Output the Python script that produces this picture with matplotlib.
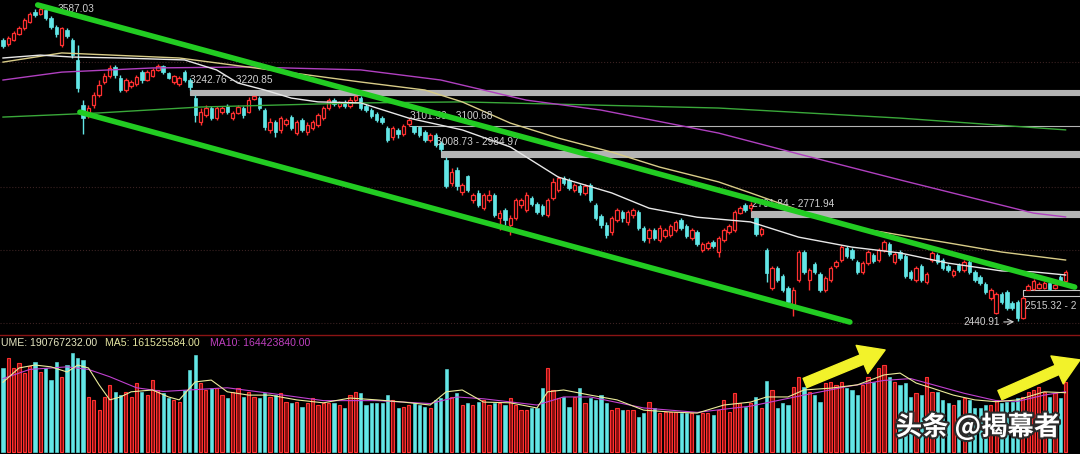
import numpy as np
import matplotlib
matplotlib.use('Agg')
import matplotlib.pyplot as plt
import matplotlib.patheffects as pe

# daily candles, oldest first (index points)
open_px = [
    3446, 3430, 3446, 3472, 3498, 3523, 3567, 3558, 3576, 3541,
    3502, 3425, 3489, 3446, 3363, 3182, 3143, 3182, 3221, 3273,
    3297, 3334, 3289, 3241, 3257, 3265, 3313, 3281, 3297, 3322,
    3338, 3309, 3273, 3265, 3313, 3281, 3209, 3116, 3143, 3170,
    3131, 3155, 3178, 3131, 3151, 3170, 3155, 3205, 3209, 3162,
    3086, 3116, 3086, 3108, 3135, 3074, 3124, 3078, 3093, 3105,
    3131, 3170, 3201, 3178, 3194, 3178, 3201, 3209, 3178, 3162,
    3147, 3131, 3093, 3059, 3086, 3070, 3108, 3099, 3097, 3078,
    3048, 3067, 3037, 2974, 2891, 2937, 2859, 2916, 2831, 2856,
    2803, 2831, 2849, 2769, 2797, 2746, 2769, 2814, 2797, 2838,
    2817, 2810, 2780, 2838, 2866, 2909, 2902, 2866, 2880, 2856,
    2884, 2814, 2776, 2746, 2722, 2762, 2790, 2756, 2780, 2790,
    2735, 2702, 2729, 2695, 2709, 2712, 2729, 2762, 2742, 2702,
    2722, 2663, 2669, 2689, 2656, 2695, 2722, 2729, 2786, 2814,
    2803, 2769, 2715, 2663, 2541, 2604, 2579, 2541, 2489, 2566,
    2656, 2566, 2617, 2585, 2535, 2566, 2610, 2630, 2669, 2663,
    2624, 2592, 2620, 2646, 2630, 2663, 2682, 2624, 2656, 2643,
    2592, 2566, 2610, 2560, 2630, 2646, 2630, 2610, 2582, 2614,
    2598, 2624, 2592, 2576, 2554, 2510, 2464, 2522, 2529, 2495,
    2498, 2449, 2535, 2538, 2541, 2541, 2557, 2541, 2576, 2563,
]
close_px = [
    3421, 3455, 3476, 3498, 3532, 3558, 3554, 3580, 3541, 3502,
    3472, 3498, 3463, 3383, 3249, 3131, 3170, 3221, 3261, 3297,
    3330, 3301, 3241, 3281, 3273, 3293, 3281, 3313, 3322, 3338,
    3313, 3289, 3297, 3289, 3281, 3253, 3143, 3155, 3170, 3131,
    3170, 3170, 3155, 3151, 3174, 3143, 3201, 3217, 3170, 3097,
    3116, 3078, 3131, 3124, 3093, 3116, 3086, 3105, 3116, 3143,
    3170, 3201, 3186, 3190, 3178, 3201, 3217, 3170, 3162, 3139,
    3124, 3116, 3048, 3093, 3070, 3101, 3124, 3078, 3067, 3048,
    3067, 3029, 3014, 2880, 2930, 2880, 2884, 2866, 2849, 2814,
    2849, 2849, 2780, 2786, 2762, 2769, 2831, 2831, 2849, 2817,
    2790, 2783, 2831, 2895, 2909, 2891, 2873, 2884, 2859, 2880,
    2831, 2769, 2746, 2712, 2769, 2797, 2769, 2790, 2797, 2735,
    2695, 2729, 2702, 2735, 2729, 2742, 2756, 2735, 2709, 2729,
    2682, 2682, 2686, 2676, 2702, 2729, 2742, 2790, 2803, 2797,
    2814, 2715, 2732, 2588, 2604, 2566, 2535, 2498, 2535, 2656,
    2592, 2598, 2592, 2535, 2572, 2604, 2624, 2672, 2643, 2637,
    2592, 2620, 2656, 2627, 2663, 2689, 2650, 2650, 2637, 2579,
    2572, 2604, 2566, 2585, 2653, 2624, 2604, 2598, 2595, 2598,
    2624, 2592, 2566, 2557, 2529, 2535, 2522, 2498, 2480, 2480,
    2449, 2510, 2547, 2563, 2554, 2557, 2538, 2550, 2560, 2592,
]
high_px = [
    3455, 3463, 3485, 3506, 3541, 3567, 3580, 3587.03, 3585, 3550,
    3510, 3502, 3498, 3455, 3425, 3201, 3182, 3233, 3281, 3309,
    3342, 3342, 3301, 3289, 3281, 3301, 3322, 3322, 3330, 3346,
    3342, 3313, 3301, 3297, 3322, 3289, 3220.85, 3170, 3182, 3178,
    3178, 3178, 3186, 3159, 3182, 3178, 3213, 3219, 3217, 3170,
    3131, 3124, 3139, 3131, 3143, 3124, 3131, 3116, 3124, 3151,
    3178, 3209, 3209, 3197, 3201, 3213, 3219, 3217, 3186, 3170,
    3155, 3139, 3101, 3101, 3093, 3108, 3131, 3100.68, 3099, 3086,
    3074, 3074, 3044, 2984.97, 2944, 2948, 2891, 2920, 2856, 2866,
    2856, 2866, 2856, 2797, 2803, 2780, 2838, 2838, 2859, 2845,
    2824, 2817, 2838, 2909, 2916, 2916, 2909, 2891, 2887, 2887,
    2891, 2821, 2783, 2756, 2776, 2803, 2797, 2797, 2803, 2797,
    2742, 2735, 2735, 2746, 2735, 2749, 2762, 2769, 2749, 2735,
    2729, 2689, 2692, 2695, 2709, 2735, 2749, 2797, 2810, 2821,
    2824, 2771.94, 2739, 2669, 2610, 2610, 2585, 2547, 2544, 2663,
    2663, 2604, 2624, 2592, 2579, 2610, 2630, 2679, 2676, 2669,
    2630, 2627, 2663, 2653, 2669, 2695, 2689, 2656, 2663, 2650,
    2598, 2610, 2617, 2592, 2659, 2653, 2637, 2617, 2601, 2620,
    2630, 2630, 2598, 2582, 2560, 2541, 2529, 2529, 2535, 2501,
    2504, 2515.32, 2554, 2569, 2560, 2563, 2563, 2557, 2582, 2598,
]
low_px = [
    3413, 3421, 3442, 3468, 3489, 3519, 3545, 3554, 3532, 3493,
    3459, 3417, 3455, 3371, 3233, 3070, 3131, 3170, 3213, 3265,
    3289, 3289, 3233, 3233, 3249, 3257, 3269, 3277, 3293, 3318,
    3305, 3285, 3265, 3257, 3273, 3242.76, 3116, 3105, 3135, 3124,
    3124, 3147, 3147, 3124, 3147, 3131, 3151, 3201, 3162, 3086,
    3074, 3059, 3074, 3101, 3086, 3067, 3078, 3067, 3086, 3097,
    3124, 3162, 3178, 3170, 3170, 3170, 3194, 3162, 3155, 3131,
    3116, 3108, 3040, 3048, 3055, 3063, 3101.50, 3070, 3059, 3040,
    3040, 3022, 3008.73, 2873, 2880, 2866, 2849, 2859, 2821, 2807,
    2797, 2824, 2773, 2729, 2746, 2712, 2762, 2803, 2790, 2810,
    2783, 2776, 2773, 2831, 2859, 2884, 2866, 2859, 2849, 2849,
    2824, 2762, 2735, 2702, 2712, 2756, 2756, 2746, 2769, 2729,
    2689, 2686, 2695, 2689, 2702, 2705, 2722, 2729, 2702, 2695,
    2676, 2656, 2663, 2669, 2640, 2689, 2715, 2722, 2783, 2790,
    2791.84, 2709, 2709, 2560, 2535, 2560, 2529, 2489, 2455, 2560,
    2585, 2535, 2585, 2529, 2529, 2560, 2604, 2624, 2637, 2630,
    2585, 2585, 2614, 2620, 2624, 2656, 2643, 2617, 2630, 2572,
    2566, 2560, 2560, 2554, 2624, 2617, 2598, 2592, 2576, 2592,
    2592, 2585, 2560, 2550, 2522, 2504, 2461, 2492, 2473, 2473,
    2440.91, 2446, 2533.50, 2536, 2538, 2538, 2536, 2538, 2554, 2557,
]
# daily volume, millions of shares
volume_m = [
    229, 256, 229, 243, 215, 234, 245, 218, 229, 196,
    245, 204, 237, 270, 256, 251, 150, 142, 114, 150,
    183, 164, 155, 164, 150, 188, 164, 155, 196, 169,
    161, 147, 142, 136, 169, 223, 264, 188, 169, 174,
    174, 155, 147, 164, 174, 150, 164, 150, 147, 161,
    150, 155, 161, 136, 134, 136, 123, 134, 147, 128,
    134, 134, 134, 128, 120, 155, 164, 161, 128, 134,
    134, 134, 155, 142, 120, 123, 128, 134, 128, 123,
    120, 142, 147, 226, 150, 161, 128, 134, 128, 136,
    142, 128, 134, 134, 128, 147, 128, 114, 114, 120,
    120, 174, 229, 169, 147, 150, 123, 150, 174, 134,
    147, 142, 155, 134, 114, 120, 114, 114, 114, 95,
    106, 136, 120, 106, 109, 109, 109, 106, 106, 106,
    101, 106, 106, 101, 114, 142, 109, 161, 134, 123,
    134, 150, 120, 193, 169, 120, 134, 128, 177, 204,
    177, 164, 155, 136, 188, 191, 183, 191, 174, 169,
    155, 183, 204, 191, 229, 237, 204, 191, 183, 188,
    150, 161, 155, 204, 164, 164, 142, 134, 128, 142,
    147, 142, 120, 120, 128, 128, 142, 134, 136, 136,
    147, 150, 164, 169, 177, 164, 150, 161, 147, 190.767232,
]

# moving average lines (index, price)
ma_white_idx = [0, 7, 13, 22, 34, 40, 44, 49, 54, 59, 67, 76, 86, 95, 104, 114,
                121, 130, 140, 149, 159, 168, 177, 187, 193, 199]
ma_white = [3371, 3383, 3375, 3371, 3363, 3322, 3269, 3241, 3209, 3194, 3190, 3131,
            3086, 3022, 2912, 2856, 2803, 2772, 2756, 2705, 2672, 2653, 2620, 2595,
            2592, 2582]
ma_yellow_idx = [0, 11, 33, 50, 67, 79, 86, 95, 104, 114, 123, 134, 140, 149, 159,
                 168, 177, 187, 199]
ma_yellow = [3354, 3392, 3371, 3322, 3273, 3241, 3194, 3112, 3055, 3003, 2948, 2895,
             2856, 2797, 2739, 2712, 2686, 2656, 2630]
ma_magenta_idx = [0, 11, 28, 46, 67, 82, 98, 112, 134, 149, 168, 193, 199]
ma_magenta = [3281, 3313, 3330, 3334, 3322, 3281, 3201, 3162, 3074, 2996, 2902, 2786, 2773]
ma_green_idx = [0, 18, 37, 67, 86, 110, 134, 168, 199]
ma_green = [3135, 3151, 3174, 3190, 3194, 3182, 3170, 3131, 3086]

# volume moving averages (index, millions)
vol_ma5_idx = [0, 3, 6, 9, 12, 14, 16, 18, 20, 22, 24, 28, 31, 33, 36, 39, 42, 46,
               50, 55, 60, 65, 70, 75, 80, 83, 86, 90, 95, 100, 102, 105, 110, 115,
               120, 125, 130, 135, 140, 143, 147, 150, 155, 160, 165, 168, 171, 174,
               178, 182, 186, 190, 195, 199]
vol_ma5 = [190, 229, 237, 232, 218, 237, 229, 183, 142, 150, 164, 169, 150, 142, 191,
           196, 164, 155, 155, 142, 134, 147, 142, 136, 128, 164, 169, 136, 134, 120,
           164, 169, 155, 142, 114, 109, 106, 128, 136, 150, 150, 169, 174, 183, 210,
           215, 188, 174, 155, 142, 137, 142, 164, 161.525584]
vol_ma10_idx = [0, 5, 12, 16, 20, 25, 30, 36, 42, 50, 60, 70, 80, 85, 90, 100, 105,
                110, 120, 130, 140, 145, 150, 158, 165, 170, 175, 180, 186, 190, 195, 199]
vol_ma10 = [200, 225, 232, 225, 205, 175, 165, 170, 175, 160, 140, 140, 132, 150, 145,
            128, 150, 150, 120, 108, 125, 140, 155, 178, 195, 200, 180, 160, 140, 138,
            155, 164.42384]

# trend channel (index, price)
chan_upper_idx = [6.5, 200.7]
chan_upper = [3598, 2544]
chan_lower_idx = [14.4, 158.6]
chan_lower = [3154, 2437]

# unfilled gaps: start index, low, high, label (last label is cut by the frame)
gap_start = [35, 76, 82, 140, 191]
gap_low = [3220.85, 3100.68, 2984.97, 2771.94, 2515.32]
gap_high = [3242.76, 3101.50, 3008.73, 2791.84, 2533.50]
gap_text = ['3242.76 - 3220.85', '3101.50 - 3100.68', '3008.73 - 2984.97',
            '2791.84 - 2771.94', '2515.32 - 2']

RED = '#ff3030'
CYAN = '#62e6e6'
LABEL = '#cfcfcf'

plt.rcParams['font.family'] = ['Liberation Sans', 'DejaVu Sans']

fig = plt.figure(figsize=(10.8, 4.54), dpi=100, facecolor='black')
ax = fig.add_axes([0, 119 / 454, 1, 335 / 454])
axv = fig.add_axes([0, 0, 1, 119 / 454])
for a in (ax, axv):
    a.set_facecolor('black')
    a.set_axis_off()

n = len(close_px)
idx = np.arange(n)
o = np.array(open_px, dtype=float)
c = np.array(close_px, dtype=float)
h = np.array(high_px, dtype=float)
l = np.array(low_px, dtype=float)
up = c >= o
col = np.where(up, RED, CYAN)

xmin, xmax = -0.56, 201.7
ax.set_yscale('log')
ax.set_xlim(xmin, xmax)
ax.set_ylim(2398.5, 3620)

# faint dotted grid
for gy in [3354, 2877, 2662, 2434]:
    ax.axhline(gy, color='#3a2222', lw=0.8, ls=':', zorder=0)

# gap bands
for k in range(len(gap_start)):
    xs = [gap_start[k], xmax]
    if k == 4:
        ax.fill_between(xs, gap_low[k], gap_high[k], facecolor='none',
                        edgecolor='#c8c8c8', lw=0.8, zorder=1.5)
    else:
        ax.fill_between(xs, gap_low[k], gap_high[k], color='#b4b4b4',
                        lw=0.8, zorder=1.5)

# candles
ax.vlines(idx, l, h, colors=col, lw=1.0, zorder=2)
lo = np.minimum(o, c)
hgt = np.maximum(np.abs(c - o), 1.5)
ax.bar(idx[up], hgt[up], bottom=lo[up], width=0.64, facecolor='black',
       edgecolor=RED, lw=0.9, zorder=3)
ax.bar(idx[~up], hgt[~up], bottom=lo[~up], width=0.64, facecolor=CYAN,
       edgecolor=CYAN, lw=0.5, zorder=3)

# moving averages
ax.plot(ma_green_idx, ma_green, color='#3aa83a', lw=1.0, zorder=4)
ax.plot(ma_magenta_idx, ma_magenta, color='#b040c0', lw=1.0, zorder=4)
ax.plot(ma_yellow_idx, ma_yellow, color='#d8cc88', lw=1.0, zorder=4)
ax.plot(ma_white_idx, ma_white, color='#e8e8e8', lw=1.0, zorder=4)

# channel lines
ax.plot(chan_upper_idx, chan_upper, color='#22cc22', lw=4.0,
        solid_capstyle='round', zorder=6)
ax.plot(chan_lower_idx, chan_lower, color='#22cc22', lw=4.0,
        solid_capstyle='round', zorder=6)

# labels
for k in range(len(gap_start)):
    ypos = [3281, 3139, 3040, 2817, 2484][k]
    xpos = [35.0, 76.2, 81.0, 140.3, 191.4][k]
    ax.text(xpos, ypos, gap_text[k], color=LABEL, fontsize=7.3, va='center',
            ha='left', zorder=5)

ax.plot([7.3, 10.2], [3587.03, 3580], color=LABEL, lw=0.8, zorder=5)
ax.text(10.3, 3580, '3587.03', color=LABEL, fontsize=7.3, va='center', zorder=5)
ax.text(179.8, 2437, '2440.91', color=LABEL, fontsize=7.3, va='center', zorder=5)
ax.annotate('', xy=(189.9, 2438), xytext=(186.9, 2437),
            arrowprops=dict(arrowstyle='->', color=LABEL, lw=0.8), zorder=5)

# volume panel
axv.set_xlim(xmin, xmax)
axv.set_ylim(-5.45, 318.8)
v = np.array(volume_m, dtype=float)
axv.bar(idx[up], v[up], width=0.6, facecolor='#8a1010', edgecolor=RED,
        lw=0.8, zorder=2)
axv.bar(idx[~up], v[~up], width=0.6, facecolor=CYAN, edgecolor=CYAN,
        lw=0.4, zorder=2)
axv.plot(vol_ma10_idx, vol_ma10, color='#c040d0', lw=0.8, zorder=3)
axv.plot(vol_ma5_idx, vol_ma5, color='#ecec9a', lw=0.8, zorder=3)

# separator between panels
fig.add_artist(plt.Line2D([0, 1], [119 / 454, 119 / 454], color='#8a1414', lw=1.0))

# yellow arrows
for tail, head in [((150.2, 188), (165.2, 278)), ((186.7, 155), (201.7, 251))]:
    axv.annotate('', xy=head, xytext=tail,
                 arrowprops=dict(arrowstyle='simple,head_length=0.9,head_width=1.1,tail_width=0.36',
                                 color='#f2f22a', mutation_scale=20, shrinkA=0, shrinkB=0),
                 zorder=6)

# volume readout (left part cut by the frame in the original)
fig.text(1 / 1080, 1 - 343 / 454, 'UME: 190767232.00', color='#e6e6c0',
         fontsize=7.6, va='center')
fig.text(105 / 1080, 1 - 343 / 454, 'MA5: 161525584.00', color='#e6e6a0',
         fontsize=7.6, va='center')
fig.text(210 / 1080, 1 - 343 / 454, 'MA10: 164423840.00', color='#c040c0',
         fontsize=7.6, va='center')

# watermark
fig.text(978 / 1080, 1 - 427 / 454, '头条 @揭幕者', color='white', fontsize=19,
         fontweight='bold', ha='center', va='center',
         family=['Noto Sans CJK SC', 'DejaVu Sans'],
         path_effects=[pe.withStroke(linewidth=3, foreground='#2a2a2a')])

fig.savefig('out.png', dpi=100, facecolor='black')
